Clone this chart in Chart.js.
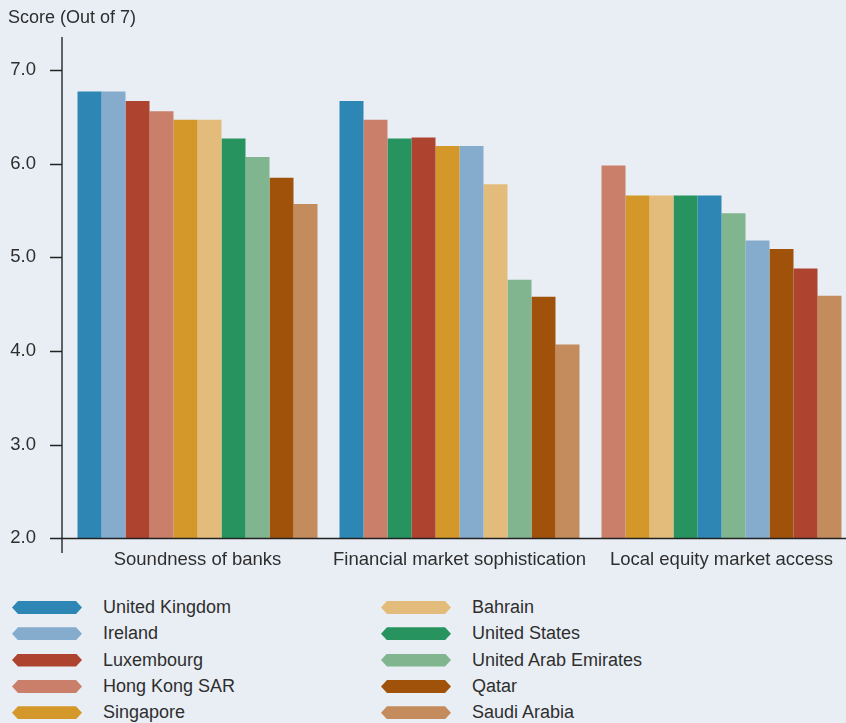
<!DOCTYPE html>
<html>
<head>
<meta charset="utf-8">
<script src="https://cdn.jsdelivr.net/npm/chart.js@4"></script>
<style>
  html, body { margin: 0; padding: 0; background: #e9eef5; overflow: hidden; }
  body { width: 846px; height: 723px; position: relative; font-family: "Liberation Sans", Arial, sans-serif; color: #2e2e2e; }
  #wrap { position: absolute; left: 0; top: 0; width: 860px; height: 580px; }
  .legend { position: absolute; left: 0; top: 594px; width: 846px; }
  .item { position: absolute; height: 26px; line-height: 26px; font-size: 18px; white-space: nowrap; }
  .swatch { position: absolute; top: 7px; width: 70px; height: 13px;
            clip-path: polygon(6px 0, 64px 0, 70px 50%, 64px 100%, 6px 100%, 0 50%); }
  .item span { position: absolute; left: 91px; }
</style>
</head>
<body>
<div id="wrap"><canvas id="chart"></canvas></div>
<div class="legend" id="legend"></div>
<script>
// categories along the x axis
var categories = ['Soundness of banks', 'Financial market sophistication', 'Local equity market access'];

// countries and their colours
var countries = ['United Kingdom', 'Ireland', 'Luxembourg', 'Hong Kong SAR', 'Singapore',
                 'Bahrain', 'United States', 'United Arab Emirates', 'Qatar', 'Saudi Arabia'];
var colors = ['#2e86b4', '#85abcd', '#ae4330', '#c97f69', '#d4972a',
              '#e3bc7b', '#27935f', '#80b590', '#a0520b', '#c48c5c'];

// scores (out of 7), one per country, same order as countries
var soundness      = [6.77, 6.77, 6.67, 6.56, 6.47, 6.47, 6.27, 6.07, 5.85, 5.57];
var sophistication = [6.67, 6.19, 6.28, 6.47, 6.19, 5.78, 6.27, 4.76, 4.58, 4.07];
var equityAccess   = [5.66, 5.18, 4.88, 5.98, 5.66, 5.66, 5.66, 5.47, 5.09, 4.59];

// bar order inside each group (as shown in the picture)
var orderSoundness = ['United Kingdom', 'Ireland', 'Luxembourg', 'Hong Kong SAR', 'Singapore',
                      'Bahrain', 'United States', 'United Arab Emirates', 'Qatar', 'Saudi Arabia'];
var orderSophistication = ['United Kingdom', 'Hong Kong SAR', 'United States', 'Luxembourg', 'Singapore',
                           'Ireland', 'Bahrain', 'United Arab Emirates', 'Qatar', 'Saudi Arabia'];
var orderEquity = ['Hong Kong SAR', 'Singapore', 'Bahrain', 'United States', 'United Kingdom',
                   'United Arab Emirates', 'Ireland', 'Qatar', 'Luxembourg', 'Saudi Arabia'];

var yTicks = [2, 3, 4, 5, 6, 7];

var seriesByCat = [soundness, sophistication, equityAccess];
var orderByCat = [orderSoundness, orderSophistication, orderEquity];

// one dataset per position in the group, coloured by the country in that slot
var datasets = [];
for (var slot = 0; slot < countries.length; slot++) {
    var data = [], bg = [];
    for (var c = 0; c < categories.length; c++) {
        var idx = countries.indexOf(orderByCat[c][slot]);
        data.push(seriesByCat[c][idx]);
        bg.push(colors[idx]);
    }
    datasets.push({ label: 'slot ' + slot, data: data, backgroundColor: bg, borderWidth: 0 });
}

var font = '"Liberation Sans", Arial, sans-serif';

// axis lines, tick marks and the y title
var axesPlugin = {
    id: 'axes',
    afterDraw: function(chart) {
        var ctx = chart.ctx, y = chart.scales.y;
        var axisX = 62;
        ctx.save();
        ctx.strokeStyle = '#5f6166';
        ctx.lineWidth = 2;
        ctx.beginPath();
        ctx.moveTo(axisX, 37);
        ctx.lineTo(axisX, 553);
        ctx.stroke();
        ctx.strokeStyle = '#222';
        ctx.lineWidth = 1.5;
        yTicks.forEach(function(v) {
            var py = Math.round(y.getPixelForValue(v)) + 0.5;
            ctx.beginPath();
            ctx.moveTo(50, py);
            ctx.lineTo(axisX, py);
            ctx.stroke();
        });
        var by = Math.round(y.getPixelForValue(2)) + 0.5;
        ctx.beginPath();
        ctx.moveTo(axisX, by);
        ctx.lineTo(chart.width, by);
        ctx.stroke();
        ctx.fillStyle = '#2e2e2e';
        ctx.font = '18px ' + font;
        ctx.textBaseline = 'middle';
        ctx.textAlign = 'left';
        ctx.fillText('Score (Out of 7)', 8, 18);
        ctx.restore();
    }
};

new Chart(document.getElementById('chart'), {
    type: 'bar',
    data: { labels: categories, datasets: datasets },
    options: {
        responsive: true,
        maintainAspectRatio: false,
        animation: false,
        layout: { padding: { left: 0, right: 7.5, top: 70, bottom: 0 } },
        plugins: { legend: { display: false }, tooltip: { enabled: false } },
        datasets: { bar: { barPercentage: 1, categoryPercentage: 0.916 } },
        scales: {
            x: {
                grid: { display: false, drawTicks: false },
                border: { display: false },
                ticks: { color: '#2e2e2e', font: { family: font, size: 18.5 }, padding: 10, maxRotation: 0 },
                afterFit: function(s) { s.height = 39; }
            },
            y: {
                min: 2, max: 7,
                afterBuildTicks: function(s) { s.ticks = yTicks.map(function(v) { return { value: v }; }); },
                grid: { display: false, drawTicks: false },
                border: { display: false },
                ticks: { color: '#2e2e2e', font: { family: font, size: 18.5 }, padding: 30.5,
                         callback: function(v) { return v.toFixed(1); } },
                afterFit: function(s) { s.width = 66.5; }
            }
        }
    },
    plugins: [axesPlugin]
});

// legend in two columns
var legend = document.getElementById('legend');
countries.forEach(function(name, i) {
    var col = i < 5 ? 0 : 1, row = i % 5;
    var item = document.createElement('div');
    item.className = 'item';
    item.style.left = (col === 0 ? 12 : 381) + 'px';
    item.style.top = (row * 26.3) + 'px';
    item.innerHTML = '<div class="swatch" style="background:' + colors[i] + '"></div><span>' + name + '</span>';
    legend.appendChild(item);
});
</script>
</body>
</html>
